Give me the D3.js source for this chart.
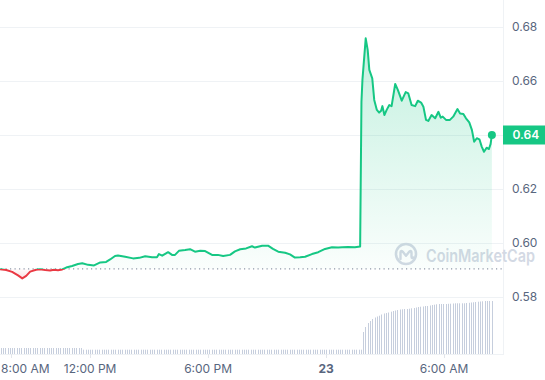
<!DOCTYPE html>
<html>
<head>
<meta charset="utf-8">
<script src="https://cdn.jsdelivr.net/npm/d3@7/dist/d3.min.js"></script>
<style>
  html, body { margin: 0; padding: 0; background: #fff; }
  svg { display: block; font-family: Inter, "Noto Sans", sans-serif; }
</style>
</head>
<body>
<svg id="chart" width="545" height="380"></svg>
<script>
// ---------- DATA ----------
const priceTimes = ["22 07:25","22 07:44","22 08:02","22 08:20","22 08:33","22 08:45","22 08:57","22 09:15","22 09:27","22 09:43","22 09:58","22 10:10","22 10:22","22 10:35","22 10:47","22 11:05","22 11:23","22 11:36","22 11:54","22 12:12","22 12:31","22 12:49","22 13:01","22 13:16","22 13:25","22 13:47","22 14:11","22 14:30","22 14:48","22 15:09","22 15:24","22 15:30","22 15:40","22 15:58","22 16:10","22 16:19","22 16:31","22 16:50","22 17:05","22 17:20","22 17:36","22 17:51","22 18:12","22 18:30","22 18:46","22 19:07","22 19:22","22 19:38","22 19:56","22 20:14","22 20:23","22 20:45","22 21:03","22 21:18","22 21:34","22 21:55","22 22:10","22 22:25","22 22:41","22 22:56","22 23:17","22 23:36","22 23:57","23 00:18","23 00:37","23 00:49","23 01:07","23 01:28","23 01:44","23 01:48","23 01:51","23 02:01","23 02:07","23 02:12","23 02:21","23 02:27","23 02:35","23 02:42","23 02:48","23 02:52","23 02:58","23 03:05","23 03:13","23 03:20","23 03:31","23 03:39","23 03:51","23 04:03","23 04:11","23 04:21","23 04:32","23 04:40","23 04:50","23 04:57","23 05:05","23 05:12","23 05:22","23 05:33","23 05:43","23 05:50","23 05:56","23 06:06","23 06:18","23 06:28","23 06:41","23 06:49","23 06:59","23 07:07","23 07:17","23 07:25","23 07:32","23 07:40","23 07:48","23 07:55","23 08:02","23 08:10","23 08:17","23 08:22","23 08:26"];

const prices = [0.5903,0.5900,0.5893,0.5880,0.5869,0.5878,0.5894,0.5901,0.5903,0.5900,0.5898,0.5901,0.5899,0.5902,0.5909,0.5915,0.5922,0.5925,0.5919,0.5917,0.5928,0.5930,0.5939,0.5952,0.5954,0.5949,0.5943,0.5945,0.5951,0.5947,0.5947,0.5959,0.5953,0.5966,0.5956,0.5956,0.5971,0.5974,0.5977,0.5968,0.5971,0.5970,0.5956,0.5956,0.5952,0.5956,0.5969,0.5977,0.5980,0.5988,0.5983,0.5990,0.5990,0.5978,0.5968,0.5964,0.5958,0.5946,0.5947,0.5949,0.5959,0.5966,0.5978,0.5984,0.5983,0.5984,0.5985,0.5984,0.5987,0.6523,0.6604,0.6758,0.6715,0.6641,0.6610,0.6530,0.6493,0.6483,0.6490,0.6507,0.6474,0.6493,0.6511,0.6507,0.6589,0.6567,0.6527,0.6559,0.6554,0.6511,0.6507,0.6527,0.6520,0.6505,0.6456,0.6452,0.6474,0.6462,0.6486,0.6464,0.6468,0.6456,0.6456,0.6468,0.6496,0.6480,0.6478,0.6462,0.6447,0.6419,0.6375,0.6388,0.6384,0.6357,0.6338,0.6353,0.6348,0.6366,0.6400];

const openPrice = 0.5904;
const lastPriceLabel = "0.64";

const priceTicks = [0.58, 0.60, 0.62, 0.66, 0.68];
const priceTickLabels = ["0.58", "0.60", "0.62", "0.66", "0.68"];
const gridValues = [0.58, 0.60, 0.62, 0.64, 0.66, 0.68];

const timeTicks = ["22 08:00", "22 12:00", "22 18:00", "23 00:00", "23 06:00"];
const timeTickLabels = ["8:00 AM", "12:00 PM", "6:00 PM", "23", "6:00 AM"];

const domainStart = "22 07:25";
const domainEnd = "23 09:03";

// 24h volume, one bar every 7 minutes from 07:27
const volumeStart = "22 07:27";
const volumeStepMinutes = 7;
const volumes = [
  6.0,6.0,6.0,6.0,6.0,6.0,6.0,6.0,6.0,6.0,6.0,6.0,
  6.0,6.0,6.0,6.0,6.0,6.0,6.0,6.0,6.0,6.0,6.0,6.0,
  6.0,6.0,6.0,6.0,6.0,6.0,6.0,6.0,6.0,6.0,6.0,6.0,
  4.3,4.3,4.3,4.3,4.3,4.3,4.3,4.3,4.3,4.3,4.3,4.3,
  4.3,4.3,4.3,4.3,4.3,4.3,4.3,4.3,4.3,4.3,4.3,4.3,
  4.3,4.3,4.3,4.3,4.3,4.3,4.3,4.3,4.3,4.3,4.3,4.3,
  4.3,4.3,4.3,4.3,4.3,4.3,4.3,4.3,4.3,4.3,4.3,4.3,
  4.3,4.3,4.3,4.3,4.3,4.3,4.3,4.3,4.3,4.3,4.3,4.3,
  4.3,4.3,4.3,4.3,4.3,4.3,4.3,4.3,4.3,4.3,4.3,4.3,
  4.3,4.3,4.3,4.3,4.3,4.3,4.3,4.3,4.3,4.3,4.3,4.3,
  4.3,4.3,4.3,4.3,4.3,4.3,4.3,4.3,4.3,4.3,4.3,4.3,
  4.3,4.3,4.3,4.3,4.3,4.3,4.3,4.3,4.3,4.3,4.3,4.3,
  4.3,4.3,4.3,4.3,4.3,4.3,4.3,4.3,4.3,4.3,4.3,4.3,
  4.3,4.3,
  22,27,31,33,35,36.5,37.5,38.3,39.5,40.5,41,41.5,42.3,43,43.5,44,44.5,44.7,45,45,
  45.3,45.7,46,46.5,47,47.3,47.5,48,48,48.5,49,49.3,49.7,50,50,50,50,50.2,50.3,50.5,
  50.7,50.7,50.7,50.7,50.7,51,51.2,51.5,51.7,52,52.3,52.5,52.7,53,53,53,53
];

// ---------- HELPERS ----------
function parseT(s) {
  const [d, hm] = s.split(" ");
  const [h, m] = hm.split(":").map(Number);
  return new Date(2023, 0, +d, h, m);
}

const W = 545, H = 380;
const plotRight = 503.5;
const volBase = 354;

const svg = d3.select("#chart");

const x = d3.scaleTime()
  .domain([parseT(domainStart), parseT(domainEnd)])
  .range([0, 504]);
const y = d3.scaleLinear().domain([0.58, 0.68]).range([297, 27]);
const yv = d3.scaleLinear().domain([0, 54]).range([volBase, 300]);

const n = Math.min(priceTimes.length, prices.length);
const data = d3.range(n).map(i => ({ t: parseT(priceTimes[i]), v: prices[i] }));
const baseY = y(openPrice);

// defs
const defs = svg.append("defs");
const grad = defs.append("linearGradient").attr("id", "gfill")
  .attr("gradientUnits", "userSpaceOnUse")
  .attr("x1", 0).attr("x2", 0).attr("y1", y(d3.max(prices))).attr("y2", baseY);
grad.append("stop").attr("offset", 0).attr("stop-color", "#16c784").attr("stop-opacity", 0.26);
grad.append("stop").attr("offset", 1).attr("stop-color", "#16c784").attr("stop-opacity", 0.02);
const gradR = defs.append("linearGradient").attr("id", "rfill")
  .attr("gradientUnits", "userSpaceOnUse")
  .attr("x1", 0).attr("x2", 0).attr("y1", baseY).attr("y2", y(d3.min(prices)));
gradR.append("stop").attr("offset", 0).attr("stop-color", "#ea3943").attr("stop-opacity", 0.02);
gradR.append("stop").attr("offset", 1).attr("stop-color", "#ea3943").attr("stop-opacity", 0.15);

defs.append("clipPath").attr("id", "above").append("rect")
  .attr("x", 0).attr("y", 0).attr("width", W).attr("height", baseY);
defs.append("clipPath").attr("id", "below").append("rect")
  .attr("x", 0).attr("y", baseY).attr("width", W).attr("height", H - baseY);

// grid lines
svg.append("g").selectAll("line").data(gridValues).join("line")
  .attr("x1", 0).attr("x2", plotRight)
  .attr("y1", d => Math.round(y(d)) + 0.5).attr("y2", d => Math.round(y(d)) + 0.5)
  .attr("stroke", "#eff2f5").attr("stroke-width", 1);

// bottom line of volume area and right border
svg.append("line").attr("x1", 0).attr("x2", plotRight).attr("y1", volBase + 0.5).attr("y2", volBase + 0.5)
  .attr("stroke", "#eff2f5");
svg.append("line").attr("x1", plotRight).attr("x2", plotRight).attr("y1", 0).attr("y2", volBase + 1)
  .attr("stroke", "#eff2f5");

// x ticks
svg.append("g").selectAll("line").data(timeTicks).join("line")
  .attr("x1", d => Math.round(x(parseT(d))) + 0.5).attr("x2", d => Math.round(x(parseT(d))) + 0.5)
  .attr("y1", volBase).attr("y2", volBase + 4)
  .attr("stroke", "#e3e6eb");

// volume bars
const t0 = parseT(volumeStart);
svg.append("g").selectAll("rect").data(volumes).join("rect")
  .attr("x", (d, i) => Math.round(x(new Date(t0.getTime() + i * volumeStepMinutes * 60000))))
  .attr("y", d => yv(d))
  .attr("width", 1)
  .attr("height", d => volBase - yv(d))
  .attr("fill", "#c6cedd");

// watermark
const wm = svg.append("g").attr("transform", "translate(406,254)");
wm.append("circle").attr("r", 10).attr("fill", "none").attr("stroke", "#d3d9e4").attr("stroke-width", 2.6);
wm.append("path")
  .attr("d", "M-5.5,5 L-5.5,-1.5 Q-5.5,-4 -3.2,-2.2 L0,1.8 L3.2,-2.2 Q5.5,-4 5.5,-1.5 L5.5,2.5 Q5.5,5 7.5,3.5")
  .attr("fill", "none").attr("stroke", "#d3d9e4").attr("stroke-width", 2.4).attr("stroke-linecap", "round").attr("stroke-linejoin", "round");
svg.append("text").attr("x", 426).attr("y", 261.5)
  .attr("font-size", 17.5).attr("font-weight", 600).attr("fill", "#d3d9e4")
  .attr("textLength", 109).attr("lengthAdjust", "spacingAndGlyphs")
  .text("CoinMarketCap");

// area fills
const area = d3.area().x(d => x(d.t)).y0(baseY).y1(d => y(d.v));
svg.append("path").datum(data).attr("d", area).attr("fill", "url(#gfill)").attr("clip-path", "url(#above)");
svg.append("path").datum(data).attr("d", area).attr("fill", "url(#rfill)").attr("clip-path", "url(#below)");

// baseline dotted
svg.append("line").attr("x1", 1).attr("x2", 502).attr("y1", baseY).attr("y2", baseY)
  .attr("stroke", "#8f98a8").attr("stroke-width", 1.2).attr("stroke-dasharray", "1.2,3.3");

// price line
const line = d3.line().x(d => x(d.t)).y(d => y(d.v));
svg.append("path").datum(data).attr("d", line).attr("fill", "none")
  .attr("stroke", "#16c784").attr("stroke-width", 2).attr("stroke-linejoin", "round")
  .attr("clip-path", "url(#above)");
svg.append("path").datum(data).attr("d", line).attr("fill", "none")
  .attr("stroke", "#ea3943").attr("stroke-width", 2).attr("stroke-linejoin", "round")
  .attr("clip-path", "url(#below)");

// end dot
const last = data[n - 1];
svg.append("circle").attr("cx", x(last.t)).attr("cy", y(last.v)).attr("r", 4).attr("fill", "#16c784");

// y labels
svg.append("g").selectAll("text").data(priceTicks).join("text")
  .attr("x", 512).attr("y", d => y(d)).attr("dy", "0.35em")
  .attr("font-size", 12).attr("fill", "#58667e")
  .text((d, i) => priceTickLabels[i]);

// price badge
svg.append("rect").attr("x", 503).attr("y", y(0.64) - 9.5).attr("width", 42).attr("height", 19)
  .attr("fill", "#16c784");
svg.append("text").attr("x", 512.5).attr("y", y(0.64)).attr("dy", "0.35em")
  .attr("font-size", 12).attr("font-weight", 600).attr("fill", "#ffffff").text(lastPriceLabel);

// x labels
svg.append("g").selectAll("text").data(timeTicks).join("text")
  .attr("x", (d, i) => i === 0 ? 1 : x(parseT(d)))
  .attr("y", 369).attr("dy", "0.35em")
  .attr("text-anchor", (d, i) => i === 0 ? "start" : "middle")
  .attr("font-size", 12)
  .attr("font-weight", (d, i) => timeTickLabels[i] === "23" ? 700 : 400)
  .attr("fill", "#58667e")
  .text((d, i) => timeTickLabels[i]);
</script>
</body>
</html>
